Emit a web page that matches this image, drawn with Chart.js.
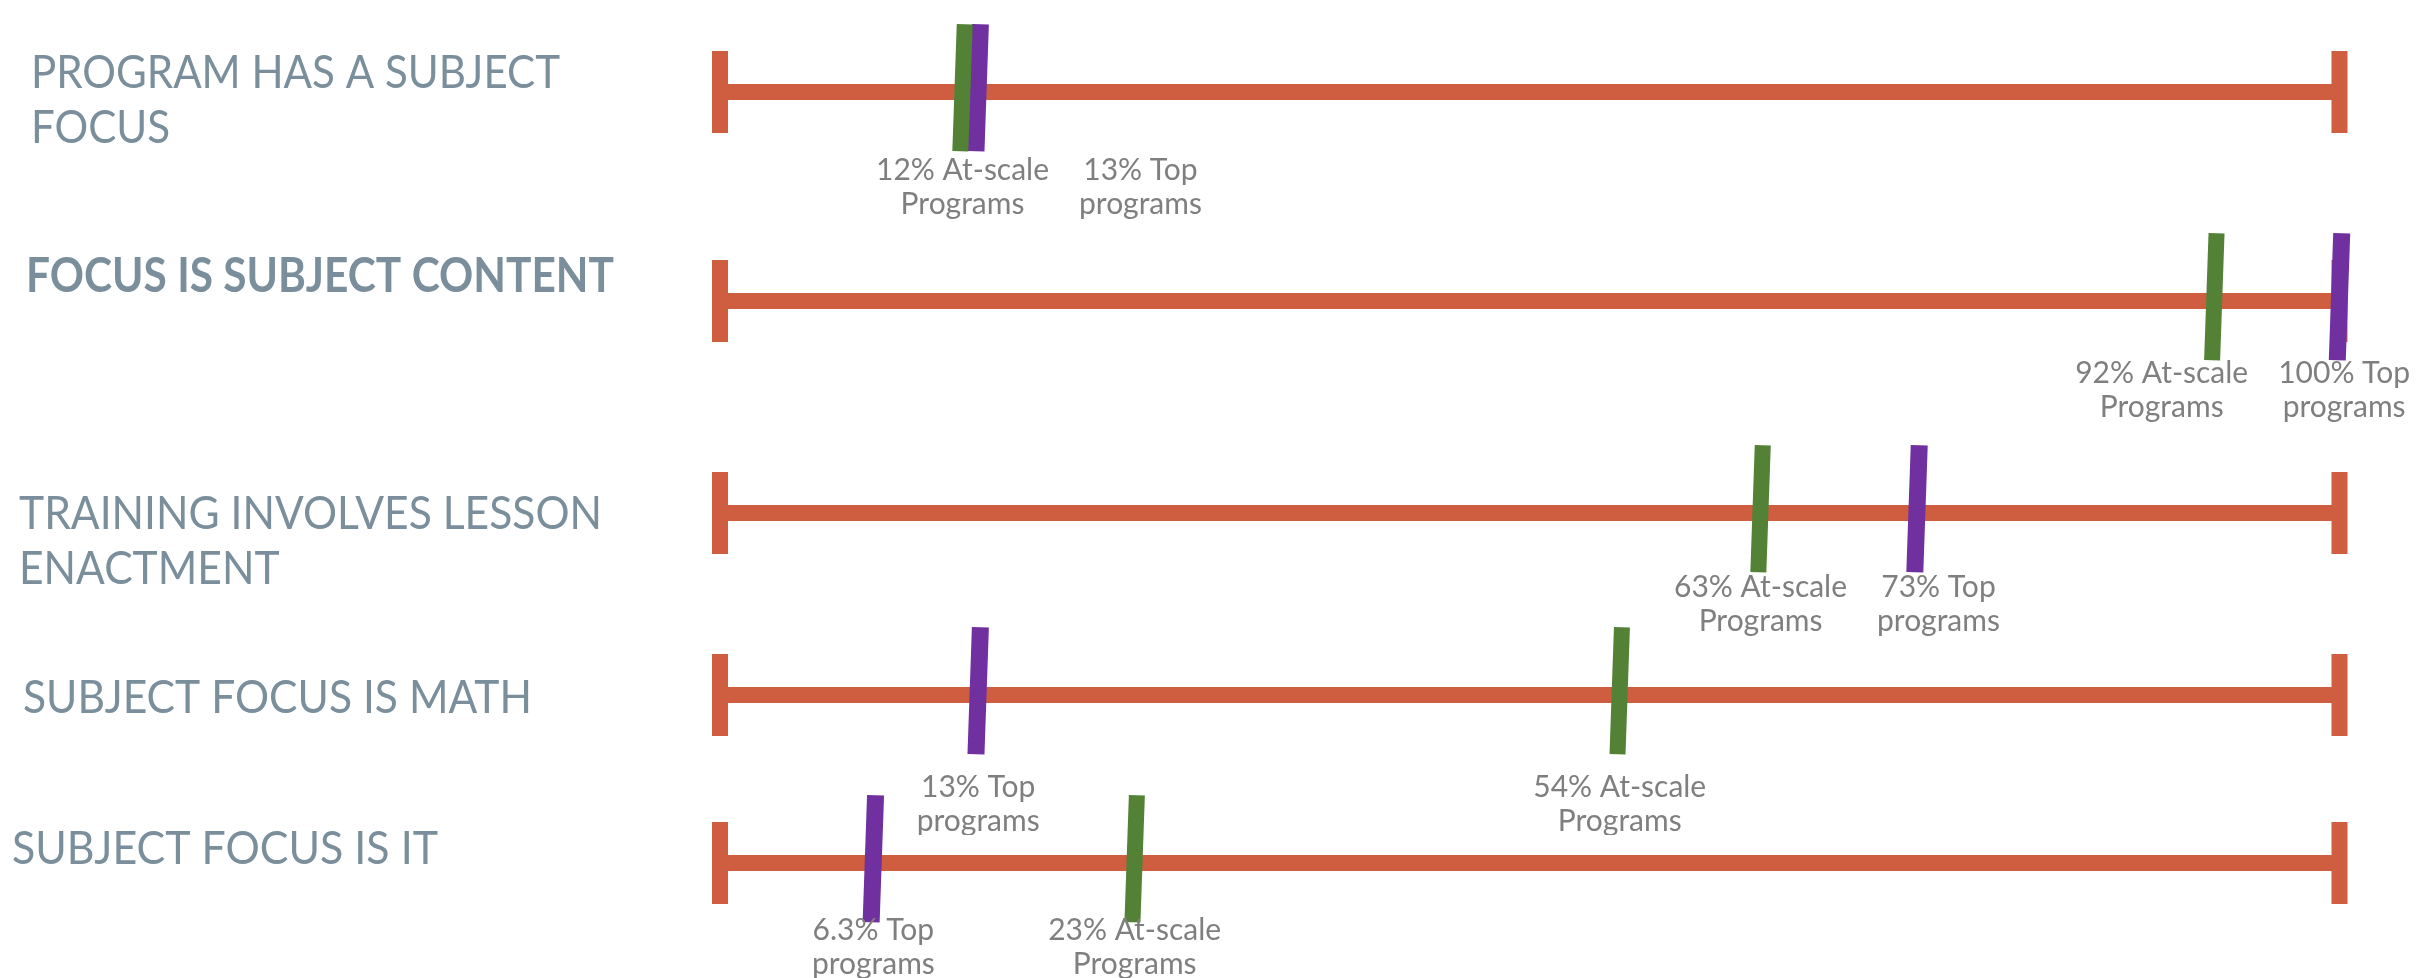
<!DOCTYPE html>
<html>
<head>
<meta charset="utf-8">
<title>Subject focus of programs</title>
<script src="https://cdn.jsdelivr.net/npm/chart.js@4.4.1/dist/chart.umd.min.js"></script>
<style>
    html, body { margin: 0; padding: 0; background: #ffffff; }
    body { width: 2420px; height: 978px; position: relative; overflow: hidden; }
    .row { position: absolute; left: 0; width: 2420px; height: 280px; }
</style>
</head>
<body>
<script>
// ---- data ----
const rowTitles = [
    ['PROGRAM HAS A SUBJECT', 'FOCUS'],
    ['FOCUS IS SUBJECT CONTENT'],
    ['TRAINING INVOLVES LESSON', 'ENACTMENT'],
    ['SUBJECT FOCUS IS MATH'],
    ['SUBJECT FOCUS IS IT']
];
const atScalePct = [12, 92, 63, 54, 23];     // at-scale programs
const topPct = [13, 100, 73, 13, 6.3];       // top programs
const trackEnds = [-3.5, 100];               // where the orange track starts / ends on the axis

// ---- layout / style ----
const rowLineY = [92, 301, 513, 695, 863];
const titleX = [31, 26, 19, 23, 12];
const titleBaseY = [88, 292, 529, 713, 864];
const titleW = [529, 588, 583, 509, 426];
const titleBold = [false, true, false, false, false];
const labelDrop = [88, 82, 84, 102, 77];

const ROW_H = 280, MID = 140;
const MARKER_LIFT = 10 / MID;   // markers sit a little above the track
const ORANGE = '#ce5e3f', GREEN = '#538135', PURPLE = '#7030a0';
const TITLE_COLOR = '#7a8f9b', LABEL_COLOR = '#7f7f7f';
const TITLE_SIZE = 47, TITLE_LEADING = 55;
const LABEL_SIZE = 30, LABEL_LEADING = 34, LABEL_GAP = 30, EDGE = 10;

// titles and marker captions for a row
const rowDecor = {
    id: 'rowDecor',
    afterDatasetsDraw(chart, args, opts) {
        const ctx = chart.ctx;
        const i = opts.row;
        const top = rowLineY[i] - MID;

        // row title (squeezed to the original width)
        ctx.save();
        ctx.fillStyle = TITLE_COLOR;
        ctx.font = (titleBold[i] ? 'bold ' : '') + TITLE_SIZE + 'px Lato';
        ctx.textAlign = 'left';
        ctx.textBaseline = 'alphabetic';
        const lines = rowTitles[i];
        const widest = Math.max(...lines.map(l => ctx.measureText(l).width));
        const sx = titleW[i] / widest;
        lines.forEach((line, k) => {
            ctx.save();
            ctx.translate(titleX[i], titleBaseY[i] - top + k * TITLE_LEADING);
            ctx.scale(sx, 1);
            ctx.fillText(line, 0, 0);
            ctx.restore();
        });
        ctx.restore();

        // captions under the markers, pushed apart when they collide
        ctx.save();
        ctx.font = LABEL_SIZE + 'px Lato';
        ctx.fillStyle = LABEL_COLOR;
        ctx.textAlign = 'center';
        ctx.textBaseline = 'alphabetic';
        const baseY = chart.scales.y.getPixelForValue(0) + labelDrop[i];
        const items = [
            { d: 0, lines: [atScalePct[i] + '% At-scale', 'Programs'] },
            { d: 1, lines: [topPct[i] + '% Top', 'programs'] }
        ].map(it => {
            it.x = chart.getDatasetMeta(it.d).data[0].x;
            it.w = Math.max(...it.lines.map(l => ctx.measureText(l).width));
            it.cx = it.x;
            return it;
        }).sort((a, b) => a.x - b.x);

        // push right where they overlap
        for (let k = 1; k < items.length; k++) {
            const prev = items[k - 1], it = items[k];
            const minCx = prev.cx + prev.w / 2 + LABEL_GAP + it.w / 2;
            if (it.cx < minCx) it.cx = minCx;
        }
        // keep the last one inside the canvas, then push back left
        const last = items[items.length - 1];
        const maxCx = chart.width - EDGE - last.w / 2;
        if (last.cx > maxCx) last.cx = maxCx;
        for (let k = items.length - 2; k >= 0; k--) {
            const next = items[k + 1], it = items[k];
            const maxC = next.cx - next.w / 2 - LABEL_GAP - it.w / 2;
            if (it.cx > maxC) it.cx = maxC;
        }

        items.forEach(it => {
            it.lines.forEach((l, k) => ctx.fillText(l, it.cx, baseY + k * LABEL_LEADING));
        });
        ctx.restore();
    }
};

rowTitles.forEach((title, i) => {
    const wrap = document.createElement('div');
    wrap.className = 'row';
    wrap.style.top = (rowLineY[i] - MID) + 'px';
    const canvas = document.createElement('canvas');
    wrap.appendChild(canvas);
    document.body.appendChild(wrap);

    const ends = trackEnds.map(x => ({ x: x, y: 0 }));

    new Chart(canvas, {
        type: 'scatter',
        data: {
            datasets: [
                {
                    // at-scale marker (drawn on top)
                    data: [{ x: atScalePct[i], y: 0 }],
                    yAxisID: 'yMark',
                    pointStyle: 'line',
                    rotation: 92,
                    pointRadius: 63.5,
                    borderColor: GREEN,
                    backgroundColor: GREEN,
                    borderWidth: 16,
                    clip: false
                },
                {
                    // top-program marker
                    data: [{ x: topPct[i], y: 0 }],
                    yAxisID: 'yMark',
                    pointStyle: 'line',
                    rotation: 92,
                    pointRadius: 63.5,
                    borderColor: PURPLE,
                    backgroundColor: PURPLE,
                    borderWidth: 17,
                    clip: false
                },
                {
                    // end caps
                    data: ends,
                    pointStyle: 'line',
                    rotation: 90,
                    pointRadius: 41,
                    borderColor: ORANGE,
                    backgroundColor: ORANGE,
                    borderWidth: 16,
                    clip: false
                },
                {
                    // the track
                    data: ends,
                    showLine: true,
                    borderColor: ORANGE,
                    borderWidth: 16,
                    pointRadius: 0,
                    clip: false
                }
            ]
        },
        options: {
            responsive: true,
            maintainAspectRatio: false,
            animation: false,
            events: [],
            layout: { padding: { left: 720, right: 77, top: 0, bottom: 0 } },
            scales: {
                x: { type: 'linear', min: trackEnds[0], max: trackEnds[1], display: false },
                y: { type: 'linear', min: -1, max: 1, display: false },
                yMark: { type: 'linear', min: -1 - MARKER_LIFT, max: 1 - MARKER_LIFT, display: false }
            },
            plugins: {
                legend: { display: false },
                tooltip: { enabled: false },
                rowDecor: { row: i }
            }
        },
        plugins: [rowDecor]
    });
});
</script>
</body>
</html>
